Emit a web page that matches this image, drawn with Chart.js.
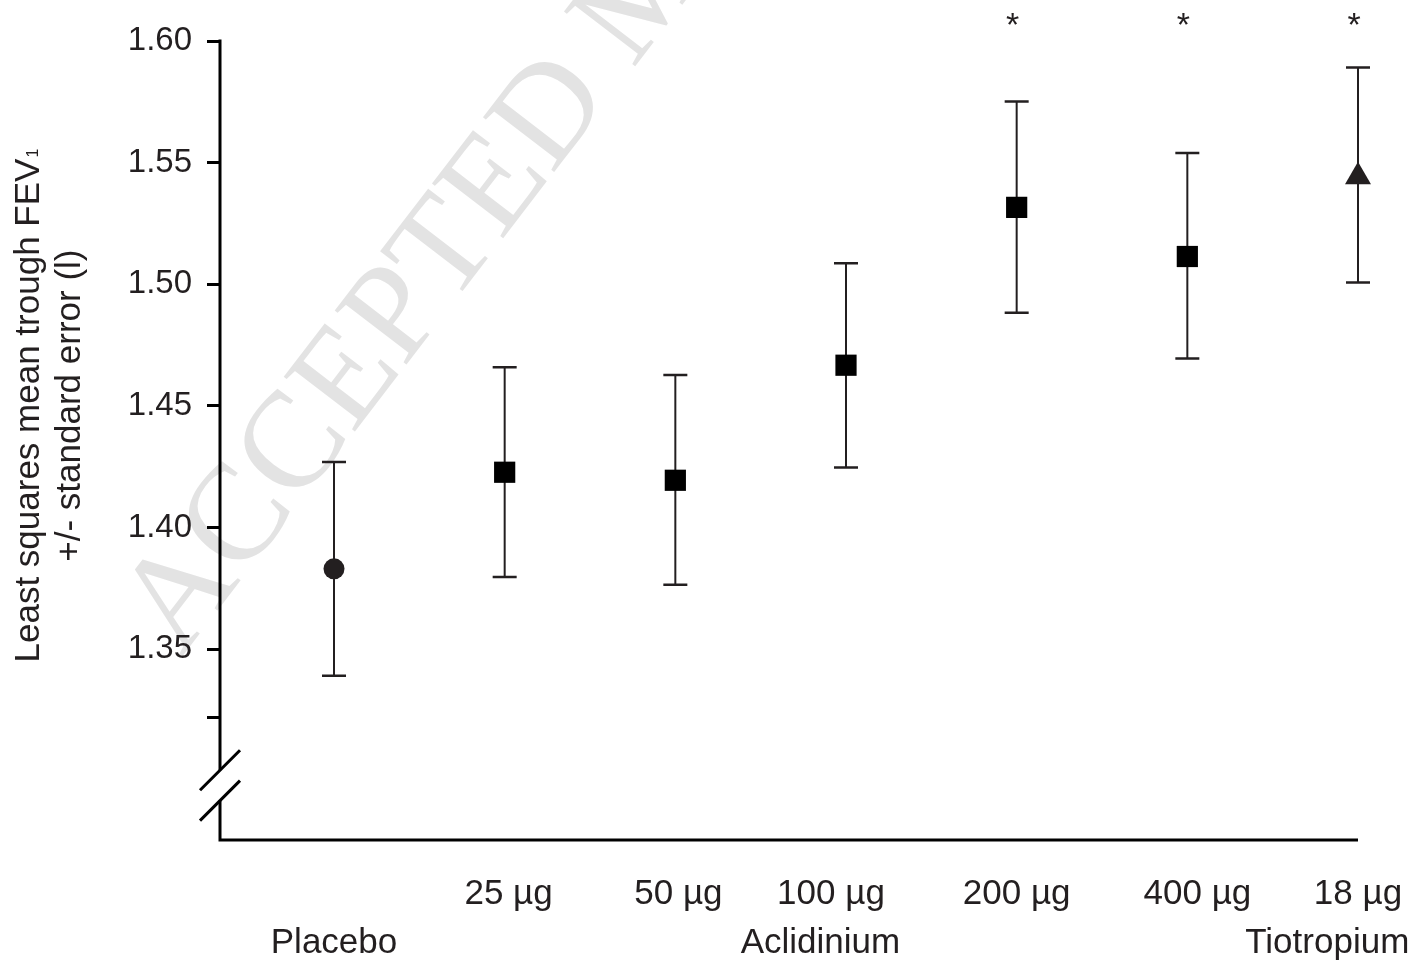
<!DOCTYPE html>
<html>
<head>
<meta charset="utf-8">
<script src="https://cdn.jsdelivr.net/npm/chart.js@4.4.1/dist/chart.umd.min.js"></script>
<style>
  html, body { margin: 0; padding: 0; background: #fff; }
  #wrap { width: 1412px; height: 962px; position: relative; }
</style>
</head>
<body>
<div id="wrap"><canvas id="fevChart"></canvas></div>
<script>
// values (litres)
const categories = ['Placebo', '25 µg', '50 µg', '100 µg', '200 µg', '400 µg', '18 µg'];
const meanValues = [1.383, 1.4227, 1.4194, 1.4667, 1.5316, 1.5114, 1.5442];
const upperValues = [1.4269, 1.4659, 1.4627, 1.5086, 1.5751, 1.554, 1.5891];
const lowerValues = [1.339, 1.3796, 1.3764, 1.4246, 1.4883, 1.4695, 1.5007];
const significant = [false, false, false, false, true, true, true];
const markerStyles = ['circle', 'rect', 'rect', 'rect', 'rect', 'rect', 'triangle'];

const doseLabels = ['', '25 µg', '50 µg', '100 µg', '200 µg', '400 µg', '18 µg'];
const groupLabels = ['Placebo', 'Aclidinium', 'Tiotropium'];
const yTickValues = [1.60, 1.55, 1.50, 1.45, 1.40, 1.35, 1.322];
const yTickLabels = ['1.60', '1.55', '1.50', '1.45', '1.40', '1.35', ''];

const ink = '#231f20';
// label placement on the x axis (the original labels are not all centred)
const doseNudge = [0, 0.023, 0.018, -0.088, 0, 0.059, 0];
const groupAt = [0, 2.85, 5.82];
const breakTop = 1.3002;           // axis break
const breakBottom = 1.2877;

const xTickItems = [];
doseLabels.forEach((d, i) => {
  if (d) xTickItems.push({ value: i + doseNudge[i], label: [d, ''] });
});
groupLabels.forEach((g, k) => xTickItems.push({ value: groupAt[k], label: ['', g] }));

const extras = {
  id: 'extras',
  beforeDraw(chart) {
    // watermark
    const ctx = chart.ctx;
    ctx.save();
    ctx.translate(181, 658);
    ctx.rotate(-52.5 * Math.PI / 180);
    ctx.font = '137px "Liberation Serif"';
    ctx.fillStyle = '#e3e3e3';
    ctx.textBaseline = 'alphabetic';
    ctx.fillText('ACCEPTED MANUSCRIPT', 0, 0);
    ctx.restore();
  },
  beforeDatasetsDraw(chart) {
    // error bars
    const ctx = chart.ctx, x = chart.scales.x, y = chart.scales.y;
    ctx.save();
    ctx.strokeStyle = ink;
    meanValues.forEach((m, i) => {
      const px = x.getPixelForValue(i);
      const top = y.getPixelForValue(upperValues[i]);
      const bot = y.getPixelForValue(lowerValues[i]);
      ctx.lineWidth = 2;
      ctx.beginPath();
      ctx.moveTo(px, top);
      ctx.lineTo(px, bot);
      ctx.stroke();
      ctx.lineWidth = 2.5;
      ctx.beginPath();
      ctx.moveTo(px - 12, top); ctx.lineTo(px + 12, top);
      ctx.moveTo(px - 12, bot); ctx.lineTo(px + 12, bot);
      ctx.stroke();
    });
    ctx.restore();
  },
  afterDraw(chart) {
    const ctx = chart.ctx, x = chart.scales.x, y = chart.scales.y;
    const a = chart.chartArea;
    ctx.save();
    ctx.strokeStyle = '#000';
    ctx.lineWidth = 3;
    ctx.lineCap = 'butt';
    // y axis with a break
    ctx.beginPath();
    ctx.moveTo(a.left, y.getPixelForValue(1.60) - 1.5);
    ctx.lineTo(a.left, y.getPixelForValue(breakTop));
    ctx.moveTo(a.left, y.getPixelForValue(breakBottom));
    ctx.lineTo(a.left, a.bottom + 1.5);
    // x axis
    ctx.moveTo(a.left - 1.5, a.bottom);
    ctx.lineTo(x.getPixelForValue(6), a.bottom);
    ctx.stroke();
    // break marks
    ctx.beginPath();
    [breakTop, breakBottom].forEach(v => {
      const py = y.getPixelForValue(v);
      ctx.moveTo(a.left - 20, py + 20);
      ctx.lineTo(a.left + 20, py - 20);
    });
    ctx.stroke();

    // asterisks
    ctx.fillStyle = ink;
    ctx.font = '34px "Liberation Sans"';
    ctx.textAlign = 'center';
    ctx.textBaseline = 'alphabetic';
    significant.forEach((s, i) => {
      if (s) ctx.fillText('*', x.getPixelForValue(i) - 4, y.getPixelForValue(1.60) - 5);
    });

    // y axis title
    const cy = (y.getPixelForValue(1.60) + y.getPixelForValue(breakTop)) / 2;
    ctx.translate(0, cy);
    ctx.rotate(-Math.PI / 2);
    ctx.textAlign = 'left';
    const main = 'Least squares mean trough FEV';
    ctx.font = '35px "Liberation Sans"';
    const w1 = ctx.measureText(main).width;
    ctx.font = '16px "Liberation Sans"';
    const ws = ctx.measureText('1').width;
    const start = -(w1 + ws + 1) / 2;
    ctx.font = '35px "Liberation Sans"';
    ctx.fillText(main, start, 39);
    ctx.font = '16px "Liberation Sans"';
    ctx.fillText('1', start + w1 + 1, 38);
    ctx.font = '35px "Liberation Sans"';
    ctx.textAlign = 'center';
    ctx.fillText('+/- standard error (l)', 0, 80);
    ctx.restore();
  }
};

const ctx = document.getElementById('fevChart').getContext('2d');
new Chart(ctx, {
  type: 'scatter',
  data: {
    datasets: [{
      label: 'LS mean trough FEV1',
      data: meanValues.map((v, i) => ({ x: i, y: v })),
      pointStyle: markerStyles,
      pointRadius: markerStyles.map(s => s === 'circle' ? 10.5 : 15),
      pointHoverRadius: markerStyles.map(s => s === 'circle' ? 10.5 : 15),
      backgroundColor: markerStyles.map(s => s === 'rect' ? '#000' : ink),
      borderWidth: 0,
      showLine: false,
      clip: false
    }]
  },
  options: {
    responsive: true,
    maintainAspectRatio: false,
    animation: false,
    layout: { padding: { top: 41, right: 54, bottom: 0, left: 0 } },
    plugins: { legend: { display: false }, tooltip: { enabled: false } },
    scales: {
      x: {
        type: 'linear',
        min: -0.668,
        max: 6,
        grid: { display: false },
        border: { display: false },
        afterBuildTicks: scale => {
          scale.ticks = xTickItems.map(t => ({ value: t.value }));
        },
        afterFit: scale => {
          scale.height = 122;
          scale.paddingLeft = 0;
          scale.paddingRight = 0;
        },
        ticks: {
          autoSkip: false,
          maxRotation: 0,
          padding: 22,
          color: ink,
          font: { family: 'Liberation Sans', size: 35, lineHeight: 1.4 },
          callback: (value, i) => xTickItems[i].label
        }
      },
      y: {
        min: 1.2715,
        max: 1.60,
        grid: { display: true, drawOnChartArea: false, drawTicks: true, tickLength: 13, lineWidth: 3, color: '#000' },
        border: { display: false },
        afterBuildTicks: scale => {
          scale.ticks = yTickValues.map(v => ({ value: v }));
        },
        afterFit: scale => {
          scale.width = 220;
          scale.paddingTop = 0;
          scale.paddingBottom = 0;
        },
        ticks: {
          padding: 15,
          color: ink,
          font: { family: 'Liberation Sans', size: 33 },
          callback: (value, i) => yTickLabels[i]
        }
      }
    }
  },
  plugins: [extras]
});
</script>
</body>
</html>
